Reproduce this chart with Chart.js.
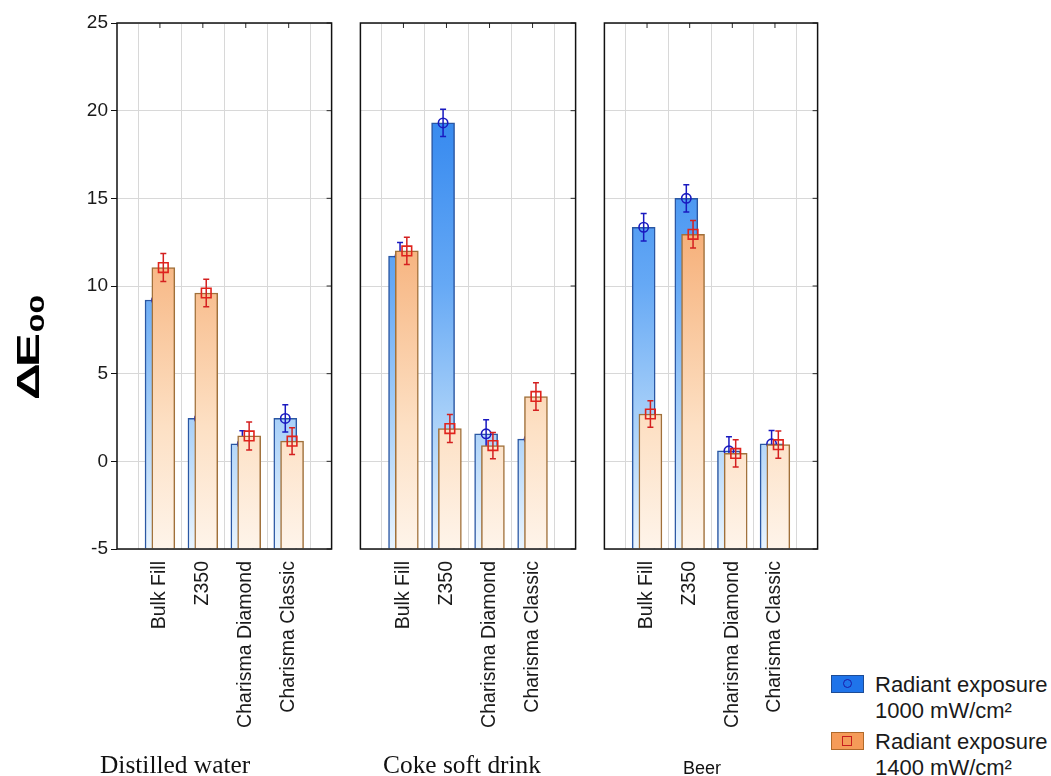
<!DOCTYPE html>
<html>
<head>
<meta charset="utf-8">
<script src="https://cdn.jsdelivr.net/npm/chart.js@4.4.1/dist/chart.umd.min.js"></script>
<style>
  html, body { margin:0; padding:0; background:#fff; }
  body { width:1051px; height:776px; position:relative; overflow:hidden; font-family:'Liberation Sans', Arial, sans-serif; color:#111; }
  canvas { position:absolute; top:0; }
  .grp { position:absolute; white-space:nowrap; color:#111; }
  .serif { font-family:'Liberation Serif','Times New Roman',serif; font-size:25.4px; line-height:25px; top:752px; }
  .sans { font-family:'Liberation Sans',Arial,sans-serif; font-size:18px; line-height:18px; top:759px; }
  .leg { position:absolute; left:831px; width:220px; height:60px; }
  .leg .box { position:absolute; left:0; top:3px; width:31px; height:16px; border:1px solid; }
  .leg .txt { position:absolute; left:44px; top:0; font-size:22px; line-height:26px; white-space:nowrap; color:#1a1a1a; }
  .mk-c { position:absolute; left:11px; top:3px; width:7px; height:7px; border:1.5px solid #1a1aa8; border-radius:50%; }
  .mk-s { position:absolute; left:10px; top:2.5px; width:8px; height:8px; border:1.5px solid #c81e1e; }
</style>
</head>
<body>
<canvas id="c1" width="340" height="776" style="left:0px"></canvas>
<canvas id="c2" width="232" height="776" style="left:352px"></canvas>
<canvas id="c3" width="230" height="776" style="left:596px"></canvas>

<div class="grp serif" style="left:100px">Distilled water</div>
<div class="grp serif" style="left:383px">Coke soft drink</div>
<div class="grp sans" style="left:683px">Beer</div>

<div class="leg" style="top:672px">
  <div class="box" style="background:#1f74ea;border-color:#1d4c96"><div class="mk-c"></div></div>
  <div class="txt">Radiant exposure<br>1000 mW/cm²</div>
</div>
<div class="leg" style="top:729px">
  <div class="box" style="background:#f59b58;border-color:#b06a2a"><div class="mk-s"></div></div>
  <div class="txt">Radiant exposure<br>1400 mW/cm²</div>
</div>

<script>
// ---------- data ----------
const categories = ['Bulk Fill', 'Z350', 'Charisma Diamond', 'Charisma Classic'];
const groups = ['Distilled water', 'Coke soft drink', 'Beer'];
const yTicks = [-5, 0, 5, 10, 15, 20, 25];

// Radiant exposure 1000 mW/cm² (blue, circles)
const blueWater = [9.2, 2.45, 1.0, 2.45];
const blueCoke  = [11.7, 19.3, 1.57, 1.27];
const blueBeer  = [13.35, 15.0, 0.6, 1.0];
// Radiant exposure 1400 mW/cm² (orange, squares)
const orangeWater = [11.05, 9.6, 1.45, 1.15];
const orangeCoke  = [12.0, 1.87, 0.9, 3.7];
const orangeBeer  = [2.7, 12.95, 0.45, 0.95];
// error half-widths
const errBlueWater = [0.78, 0.78, 0.75, 0.78];
const errBlueCoke  = [0.78, 0.78, 0.8, 0.78];
const errBlueBeer  = [0.78, 0.78, 0.8, 0.76];
const errOrangeWater = [0.8, 0.78, 0.8, 0.76];
const errOrangeCoke  = [0.78, 0.8, 0.75, 0.78];
const errOrangeBeer  = [0.76, 0.78, 0.78, 0.78];

// ---------- styling helpers ----------
const SHIFT = 0.079;          // half offset between the two overlapping bars (category units)
const PLOT_BOTTOM = 549;
const CANVAS_H = 776;

function gradient(stops) {
  return (ctx) => {
    const chart = ctx.chart;
    if (!chart.chartArea) return stops[0][1];
    const y = chart.scales.y;
    const y0 = y.getPixelForValue(25), y1 = y.getPixelForValue(-5);
    const g = chart.ctx.createLinearGradient(0, y0, 0, y1);
    stops.forEach(([v, c]) => g.addColorStop(Math.min(1, Math.max(0, (25 - v) / 30)), c));
    return g;
  };
}
const blueGrad = gradient([[25, '#2a7fec'], [18, '#3d8ef0'], [10, '#66a9f5'], [3, '#a3cdf8'], [-5, '#e9f4fe']]);
const orangeGrad = gradient([[25, '#f29a58'], [13, '#f6b07a'], [8, '#f9c69b'], [2, '#fde0c4'], [-5, '#fef4ea']]);

const errorBars = {
  id: 'errorBars',
  beforeDatasetDraw(chart, args) {
    const ds = chart.data.datasets[args.index];
    if (!ds.errors) return;
    const y = chart.scales.y, ctx = chart.ctx;
    ctx.save();
    ctx.strokeStyle = ds.errColor;
    ctx.lineWidth = 1.5;
    args.meta.data.forEach((pt, i) => {
      const v = ds.data[i].y, e = ds.errors[i];
      const yt = y.getPixelForValue(v + e), yb = y.getPixelForValue(v - e), x = pt.x;
      ctx.beginPath();
      ctx.moveTo(x, yt); ctx.lineTo(x, yb);
      ctx.moveTo(x - 3, yt); ctx.lineTo(x + 3, yt);
      ctx.moveTo(x - 3, yb); ctx.lineTo(x + 3, yb);
      ctx.stroke();
    });
    ctx.restore();
  }
};

const frame = {
  id: 'frame',
  afterDatasetsDraw(chart) {
    const a = chart.chartArea, ctx = chart.ctx;
    ctx.save();
    ctx.strokeStyle = '#2a2a2a';
    ctx.lineWidth = 1;
    ctx.beginPath();
    chart.scales.x.ticks.forEach(t => {
      const x = chart.scales.x.getPixelForValue(t.value);
      ctx.moveTo(x, a.top); ctx.lineTo(x, a.top + 5);
    });
    chart.scales.y.ticks.forEach(t => {
      const y = chart.scales.y.getPixelForValue(t.value);
      ctx.moveTo(a.right - 5, y); ctx.lineTo(a.right, y);
    });
    ctx.stroke();
    ctx.strokeStyle = '#111';
    ctx.lineWidth = 1.5;
    ctx.strokeRect(a.left, a.top, a.right - a.left, a.bottom - a.top);
    ctx.restore();
  }
};

const yTitle = {
  id: 'yTitle',
  afterDraw(chart) {
    const ctx = chart.ctx;
    ctx.save();
    ctx.translate(39, 400);
    ctx.rotate(-Math.PI / 2);
    ctx.scale(1.6, 1);
    ctx.fillStyle = '#000';
    ctx.textBaseline = 'alphabetic';
    ctx.textAlign = 'left';
    ctx.font = 'bold 32px "Liberation Sans", Arial, sans-serif';
    ctx.fillText('Δ', 0, 0);
    const wd = ctx.measureText('Δ').width;
    ctx.fillText('E', wd - 2.5, 0);
    const we = ctx.measureText('E').width;
    ctx.font = 'bold 21px "Liberation Sans", Arial, sans-serif';
    ctx.fillText('00', wd - 2.5 + we + 0.5, 5);
    ctx.restore();
  }
};

function makePanel(id, blue, orange, errB, errO, yw, rightPad, showY) {
  const pts = (arr, off) => arr.map((v, i) => ({ x: i + off, y: v }));
  const plugins = [errorBars, frame];
  if (showY) plugins.push(yTitle);
  return new Chart(document.getElementById(id), {
    type: 'bar',
    data: {
      datasets: [
        { type: 'bar', label: 'Radiant exposure 1000 mW/cm²', data: pts(blue, -SHIFT), base: -5,
          backgroundColor: blueGrad, borderColor: '#2a57a3', borderWidth: 1.5, barThickness: 23,
          grouped: false, order: 4, borderSkipped: 'start' },
        { type: 'line', label: 'mean 1000', data: pts(blue, -SHIFT), showLine: false,
          pointStyle: 'circle', pointRadius: 4.7, pointBorderWidth: 1.6,
          pointBorderColor: '#1a1ac0', pointBackgroundColor: 'rgba(0,0,0,0)', order: 3,
          errors: errB, errColor: '#1a1ac0' },
        { type: 'bar', label: 'Radiant exposure 1400 mW/cm²', data: pts(orange, SHIFT), base: -5,
          backgroundColor: orangeGrad, borderColor: '#a0703a', borderWidth: 1.5, barThickness: 23,
          grouped: false, order: 2, borderSkipped: 'start' },
        { type: 'line', label: 'mean 1400', data: pts(orange, SHIFT), showLine: false,
          pointStyle: 'rect', pointRadius: 6.8, pointBorderWidth: 1.6,
          pointBorderColor: '#e0231c', pointBackgroundColor: 'rgba(0,0,0,0)', order: 1,
          errors: errO, errColor: '#d42020' }
      ]
    },
    options: {
      responsive: false,
      animation: false,
      events: [],
      layout: { padding: { top: 23, right: rightPad, left: 0, bottom: 0 } },
      plugins: { legend: { display: false }, tooltip: { enabled: false } },
      scales: {
        x: {
          type: 'linear', min: -1, max: 4, offset: false,
          afterBuildTicks: s => { s.ticks = categories.map((c, i) => ({ value: i })); },
          afterFit: s => { s.height = CANVAS_H - PLOT_BOTTOM; },
          ticks: {
            callback: v => categories[v] ?? '',
            autoSkip: false, maxRotation: 90, minRotation: 90, padding: 12,
            color: '#1a1a1a',
            font: { family: '"Liberation Sans", Arial, sans-serif', size: 19.5 }
          },
          grid: { color: '#d8d8d8', drawTicks: false, lineWidth: 1 },
          border: { display: false }
        },
        y: {
          min: -5, max: 25,
          afterBuildTicks: s => { s.ticks = yTicks.map(v => ({ value: v })); },
          afterFit: s => { s.width = yw; },
          ticks: {
            display: showY, padding: 3, color: '#1a1a1a',
            font: { family: '"Liberation Sans Narrow", "Arial Narrow", "Liberation Sans", sans-serif', size: 19 }
          },
          grid: { color: '#d8d8d8', drawTicks: showY, tickLength: 6, tickColor: '#111', lineWidth: 1 },
          border: { display: false }
        }
      }
    },
    plugins
  });
}

makePanel('c1', blueWater, orangeWater, errBlueWater, errOrangeWater, 117, 8, true);
makePanel('c2', blueCoke, orangeCoke, errBlueCoke, errOrangeCoke, 8, 8, false);
makePanel('c3', blueBeer, orangeBeer, errBlueBeer, errOrangeBeer, 8, 4, false);
</script>
</body>
</html>
